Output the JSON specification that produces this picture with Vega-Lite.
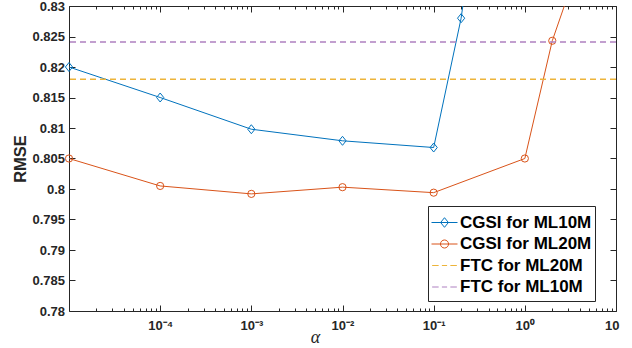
{
  "$schema": "https://vega.github.io/schema/vega-lite/v6.json",
  "width": 547,
  "height": 305,
  "autosize": {"type": "none"},
  "padding": {"left": 69, "top": 6, "right": 16, "bottom": 37},
  "background": "white",
  "config": {
    "view": {"stroke": null},
    "axis": {
      "grid": false,
      "domainColor": "#262626",
      "tickColor": "#262626",
      "labelColor": "#262626",
      "titleColor": "#262626",
      "labelFont": "Liberation Sans",
      "labelFontWeight": "bold",
      "labelFontSize": 13,
      "domainWidth": 1,
      "tickWidth": 1,
      "labelOverlap": false
    },
    "legend": {
      "orient": "none", "legendX": 359, "legendY": 200, "direction": "vertical",
      "symbolSize": 676, "symbolStrokeWidth": 1,
      "labelFont": "Liberation Sans", "labelFontSize": 17, "labelFontWeight": "bold", "labelColor": "black",
      "labelOffset": 2, "padding": 3, "strokeColor": "#262626", "fillColor": "white",
      "clipHeight": 21, "rowPadding": 0.5, "cornerRadius": 0, "symbolOpacity": 1,
      "titleFontSize": 1, "titlePadding": 2
    }
  },
  "datasets": {
    "cgsi": [
      {"series": "CGSI for ML10M", "alpha": 0.00001, "rmse": 0.8200},
      {"series": "CGSI for ML10M", "alpha": 0.0001, "rmse": 0.8150},
      {"series": "CGSI for ML10M", "alpha": 0.001, "rmse": 0.8098},
      {"series": "CGSI for ML10M", "alpha": 0.01, "rmse": 0.8079},
      {"series": "CGSI for ML10M", "alpha": 0.1, "rmse": 0.8068},
      {"series": "CGSI for ML10M", "alpha": 0.2, "rmse": 0.8280},
      {"series": "CGSI for ML10M", "alpha": 0.5, "rmse": 0.8700},
      {"series": "CGSI for ML20M", "alpha": 0.00001, "rmse": 0.8050},
      {"series": "CGSI for ML20M", "alpha": 0.0001, "rmse": 0.8005},
      {"series": "CGSI for ML20M", "alpha": 0.001, "rmse": 0.7992},
      {"series": "CGSI for ML20M", "alpha": 0.01, "rmse": 0.8003},
      {"series": "CGSI for ML20M", "alpha": 0.1, "rmse": 0.7994},
      {"series": "CGSI for ML20M", "alpha": 1, "rmse": 0.8050},
      {"series": "CGSI for ML20M", "alpha": 2, "rmse": 0.8243},
      {"series": "CGSI for ML20M", "alpha": 5, "rmse": 0.8415}
    ],
    "ftc": [
      {"series": "FTC for ML20M", "rmse": 0.8180},
      {"series": "FTC for ML10M", "rmse": 0.8241}
    ]
  },
  "layer": [
    {
      "data": {"name": "cgsi"},
      "transform": [{"filter": "datum.series === 'CGSI for ML10M'"}],
      "mark": {"type": "line", "strokeWidth": 1, "clip": true, "color": "#0072BD"},
      "encoding": {
        "x": {
          "field": "alpha", "type": "quantitative",
          "scale": {"type": "log", "domain": [0.00001, 10], "nice": false},
          "axis": {
            "orient": "bottom",
            "values": [0.0001, 0.001, 0.01, 0.1, 1, 10],
            "tickSize": -6,
            "labelPadding": 14,
            "labelFlush": true,
            "labelFlushOffset": 3,
            "labelExpr": "datum.value < 0.0005 ? '10⁻⁴' : datum.value < 0.005 ? '10⁻³' : datum.value < 0.05 ? '10⁻²' : datum.value < 0.5 ? '10⁻¹' : datum.value < 5 ? '10⁰' : '10'",
            "title": "α",
            "titleFont": "Liberation Serif",
            "titleFontStyle": "italic",
            "titleFontWeight": "normal",
            "titleFontSize": 18,
            "titleX": 246,
            "titleY": 31,
            "titleBaseline": "alphabetic",
            "titleAlign": "center"
          }
        },
        "y": {
          "field": "rmse", "type": "quantitative",
          "scale": {"domain": [0.78, 0.83], "nice": false, "zero": false},
          "axis": {
            "orient": "left",
            "values": [0.78, 0.785, 0.79, 0.795, 0.8, 0.805, 0.81, 0.815, 0.82, 0.825, 0.83],
            "tickSize": -6,
            "labelPadding": 10.5,
            "labelExpr": "format(datum.value, '.3~f')",
            "title": "RMSE",
            "titleFont": "Liberation Sans",
            "titleFontWeight": "bold",
            "titleFontSize": 16.5,
            "titleX": -49,
            "titleY": 152.5,
            "titleAngle": -90,
            "titleBaseline": "middle",
            "titleAlign": "center"
          }
        }
      }
    },
    {
      "data": {"name": "cgsi"},
      "transform": [{"filter": "datum.series === 'CGSI for ML20M'"}],
      "mark": {"type": "line", "strokeWidth": 1, "clip": true, "color": "#D95319"},
      "encoding": {
        "x": {
          "field": "alpha", "type": "quantitative",
          "axis": {
            "orient": "bottom",
            "values": [0.00002, 0.00003, 0.00004, 0.00005, 0.00006, 0.00007, 0.00008, 0.00009,
                       0.0002, 0.0003, 0.0004, 0.0005, 0.0006, 0.0007, 0.0008, 0.0009,
                       0.002, 0.003, 0.004, 0.005, 0.006, 0.007, 0.008, 0.009,
                       0.02, 0.03, 0.04, 0.05, 0.06, 0.07, 0.08, 0.09,
                       0.2, 0.3, 0.4, 0.5, 0.6, 0.7, 0.8, 0.9,
                       2, 3, 4, 5, 6, 7, 8, 9],
            "tickSize": -3,
            "labels": false,
            "domain": false,
            "title": null
          }
        },
        "y": {
          "field": "rmse", "type": "quantitative",
          "axis": {
            "orient": "right",
            "values": [0.78, 0.785, 0.79, 0.795, 0.8, 0.805, 0.81, 0.815, 0.82, 0.825, 0.83],
            "tickSize": -6,
            "labels": false,
            "title": null
          }
        }
      }
    },
    {
      "data": {"name": "cgsi"},
      "transform": [{"filter": "datum.series === 'CGSI for ML10M' && datum.rmse <= 0.83"}],
      "mark": {"type": "point", "shape": "M0,-1L0.8,0L0,1L-0.8,0Z", "size": 81, "filled": false, "strokeWidth": 1, "opacity": 1, "color": "#0072BD"},
      "encoding": {
        "x": {
          "field": "alpha", "type": "quantitative",
          "axis": {
            "orient": "top",
            "values": [0.00001, 0.0001, 0.001, 0.01, 0.1, 1, 10],
            "tickSize": -6,
            "labels": false,
            "title": null
          }
        },
        "y": {"field": "rmse", "type": "quantitative", "axis": null}
      }
    },
    {
      "data": {"name": "cgsi"},
      "transform": [{"filter": "datum.series === 'CGSI for ML20M' && datum.rmse <= 0.83"}],
      "mark": {"type": "point", "shape": "circle", "size": 52, "filled": false, "strokeWidth": 1, "opacity": 1, "color": "#D95319"},
      "encoding": {
        "x": {
          "field": "alpha", "type": "quantitative",
          "axis": {
            "orient": "top",
            "values": [0.00002, 0.00003, 0.00004, 0.00005, 0.00006, 0.00007, 0.00008, 0.00009,
                       0.0002, 0.0003, 0.0004, 0.0005, 0.0006, 0.0007, 0.0008, 0.0009,
                       0.002, 0.003, 0.004, 0.005, 0.006, 0.007, 0.008, 0.009,
                       0.02, 0.03, 0.04, 0.05, 0.06, 0.07, 0.08, 0.09,
                       0.2, 0.3, 0.4, 0.5, 0.6, 0.7, 0.8, 0.9,
                       2, 3, 4, 5, 6, 7, 8, 9],
            "tickSize": -3,
            "labels": false,
            "domain": false,
            "title": null
          }
        },
        "y": {"field": "rmse", "type": "quantitative", "axis": null}
      }
    },
    {
      "data": {"name": "ftc"},
      "transform": [{"filter": "datum.series === 'FTC for ML20M'"}],
      "mark": {"type": "rule", "strokeWidth": 1.5, "strokeDash": [6, 4], "color": "#EDB43A"},
      "encoding": {
        "y": {"field": "rmse", "type": "quantitative", "axis": null}
      }
    },
    {
      "data": {"name": "ftc"},
      "transform": [{"filter": "datum.series === 'FTC for ML10M'"}],
      "mark": {"type": "rule", "strokeWidth": 1.5, "strokeDash": [6, 4], "color": "#AE80C0"},
      "encoding": {
        "y": {"field": "rmse", "type": "quantitative", "axis": null}
      }
    },
    {
      "data": {"name": "cgsi"},
      "transform": [{"filter": "datum.rmse <= 0.83"}],
      "mark": {"type": "point", "filled": false, "strokeWidth": 1, "opacity": 0},
      "encoding": {
        "x": {"field": "alpha", "type": "quantitative", "axis": null},
        "y": {"field": "rmse", "type": "quantitative", "axis": null},
        "color": {
          "field": "series", "type": "nominal",
          "scale": {
            "domain": ["CGSI for ML10M", "CGSI for ML20M", "FTC for ML20M", "FTC for ML10M"],
            "range": ["#0072BD", "#D95319", "#EDB43A", "#AE80C0"]
          },
          "legend": {"symbolOpacity": 1, "title": " "}
        },
        "shape": {
          "field": "series", "type": "nominal",
          "scale": {
            "domain": ["CGSI for ML10M", "CGSI for ML20M", "FTC for ML20M", "FTC for ML10M"],
            "range": [
              "M-1,0H1M0,-0.37L0.3,0L0,0.37L-0.3,0Z",
              "M-1,0H1M0.31,0A0.31,0.31,0,1,1,-0.31,0A0.31,0.31,0,1,1,0.31,0Z",
              "M-0.95,0H-0.45M-0.2,0H0.2M0.45,0H0.95",
              "M-0.95,0H-0.45M-0.2,0H0.2M0.45,0H0.95"
            ]
          },
          "legend": {"symbolOpacity": 1, "title": " "}
        }
      }
    }
  ],
  "resolve": {"axis": {"x": "independent", "y": "independent"}}
}
